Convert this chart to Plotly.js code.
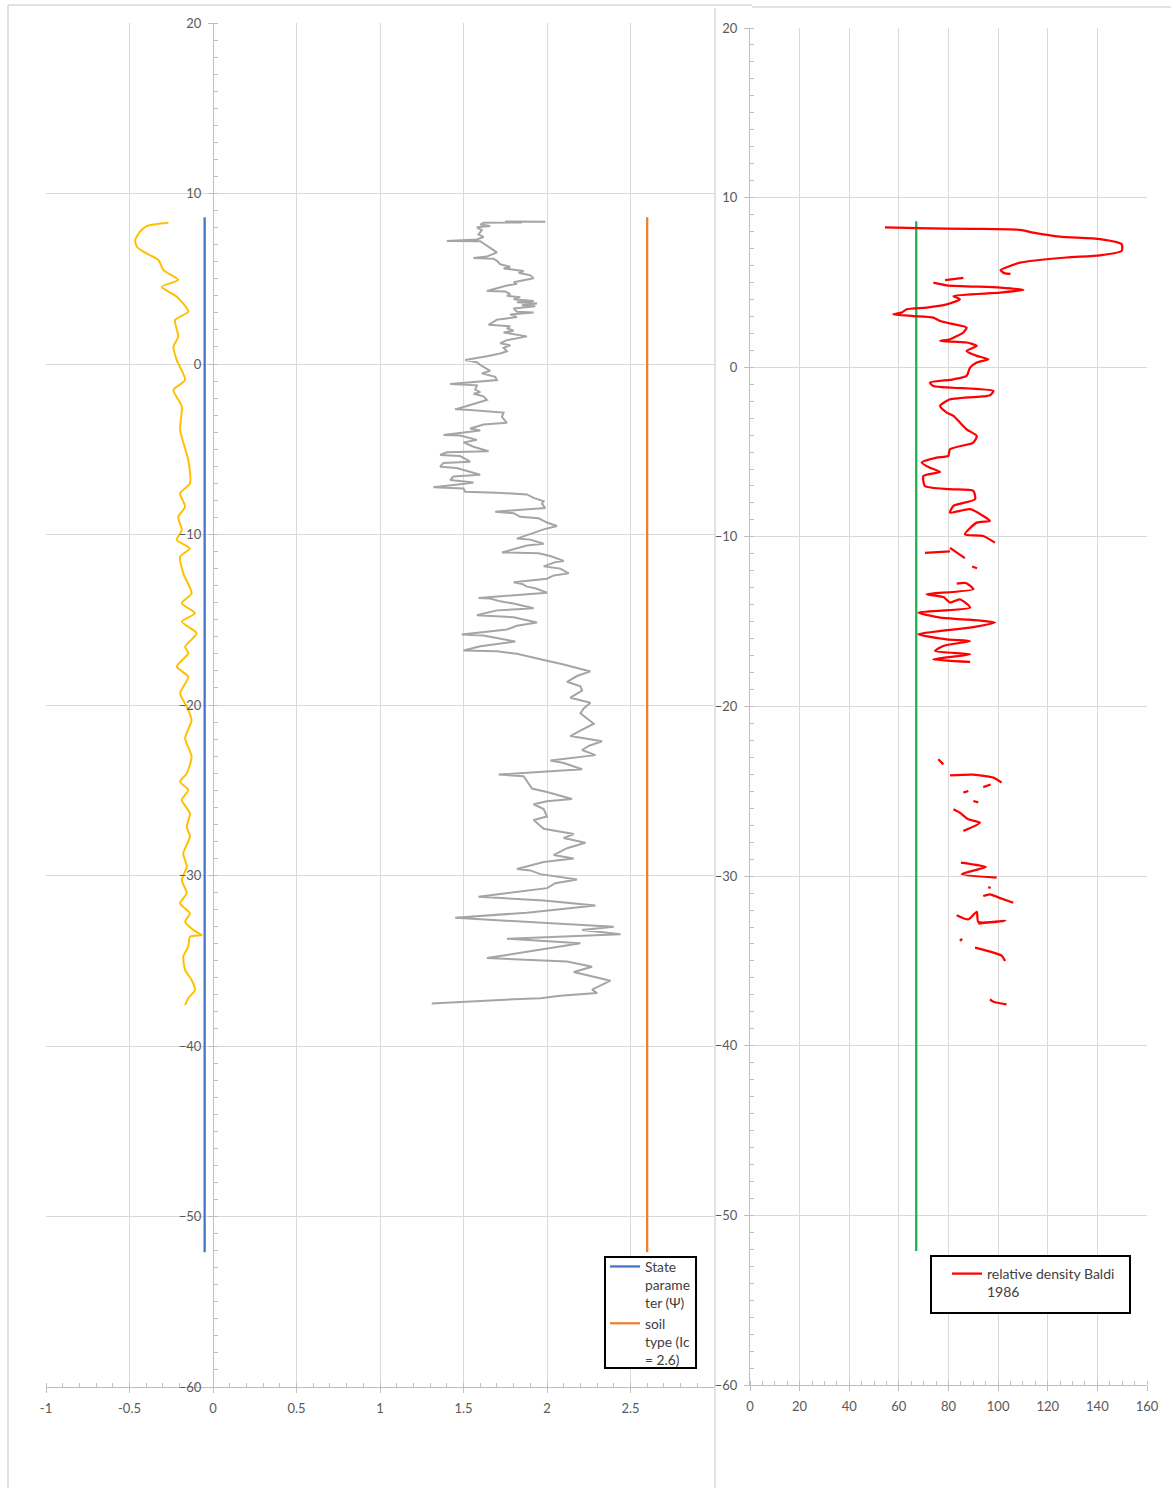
<!DOCTYPE html>
<html>
<head>
<meta charset="utf-8">
<script src="https://cdn.plot.ly/plotly-3.0.1.min.js"></script>
<style>html,body{margin:0;padding:0;background:#fff;}#chart{width:1171px;height:1488px;}</style>
</head>
<body>
<div id="chart"></div>
<script>
// ---- Data ----
// Yellow curve: state parameter profile (x value, elevation)
var psiX = [-0.267,-0.307,-0.397,-0.437,-0.466,-0.456,-0.417,-0.327,-0.297,-0.208,-0.307,-0.217,-0.148,-0.227,-0.208,-0.237,-0.217,-0.167,-0.237,-0.187,-0.197,-0.148,-0.138,-0.197,-0.167,-0.208,-0.187,-0.217,-0.138,-0.197,-0.178,-0.128,-0.187,-0.108,-0.187,-0.098,-0.167,-0.148,-0.217,-0.148,-0.197,-0.157,-0.128,-0.167,-0.128,-0.157,-0.197,-0.148,-0.187,-0.138,-0.157,-0.138,-0.178,-0.157,-0.187,-0.157,-0.197,-0.138,-0.167,-0.118,-0.068,-0.138,-0.148,-0.178,-0.167,-0.128,-0.108,-0.148,-0.167];
var psiY = [8.29,8.25,8.09,7.76,7.27,6.88,6.59,6.10,5.51,4.93,4.53,3.95,3.07,2.58,1.60,1.01,0.23,-0.94,-1.52,-2.50,-3.87,-5.63,-7.00,-7.58,-8.37,-8.96,-9.74,-10.32,-10.81,-11.30,-12.28,-13.45,-14.03,-14.62,-15.11,-15.79,-16.58,-16.97,-17.75,-18.34,-19.31,-20.10,-20.88,-21.95,-23.03,-24.01,-24.50,-24.99,-25.57,-26.35,-27.14,-27.72,-28.70,-29.48,-30.26,-31.04,-31.63,-32.22,-32.71,-33.20,-33.49,-33.59,-34.17,-34.76,-35.54,-36.13,-36.72,-37.20,-37.60];

// Grey curve: soil behaviour index profile
var icX = [1.99,1.75,1.85,1.62,1.60,1.66,1.58,1.61,1.59,1.62,1.58,1.40,1.60,1.63,1.66,1.70,1.64,1.56,1.68,1.70,1.72,1.78,1.74,1.86,1.83,1.90,1.92,1.85,1.80,1.82,1.76,1.64,1.75,1.78,1.76,1.84,1.80,1.92,1.82,1.94,1.85,1.93,1.80,1.82,1.92,1.78,1.82,1.70,1.65,1.78,1.76,1.80,1.74,1.88,1.82,1.76,1.72,1.78,1.74,1.76,1.72,1.64,1.51,1.58,1.60,1.63,1.66,1.61,1.69,1.70,1.42,1.58,1.57,1.60,1.56,1.62,1.64,1.49,1.45,1.52,1.74,1.73,1.76,1.62,1.54,1.60,1.38,1.48,1.58,1.50,1.56,1.65,1.40,1.36,1.48,1.54,1.38,1.36,1.46,1.60,1.44,1.42,1.56,1.48,1.32,1.50,1.51,1.70,1.88,1.92,1.98,1.97,1.99,1.69,1.80,1.84,1.95,2.00,2.06,1.98,1.82,1.90,1.98,1.88,1.73,1.95,2.02,2.10,2.05,1.98,2.08,2.13,2.04,2.00,1.80,1.85,1.88,1.93,2.00,1.59,1.66,1.72,1.80,1.92,1.70,1.58,1.80,1.94,1.82,1.76,1.49,1.62,1.81,1.60,1.50,1.70,1.82,2.00,2.10,2.26,2.18,2.12,2.20,2.21,2.14,2.26,2.22,2.20,2.24,2.28,2.20,2.14,2.33,2.25,2.21,2.29,2.02,2.10,2.21,1.71,1.86,1.88,1.91,2.00,2.15,2.00,1.92,1.98,2.00,1.92,1.98,2.16,2.10,2.23,2.12,2.04,2.16,1.98,1.82,1.90,1.96,2.18,2.05,2.00,1.59,1.98,2.29,1.88,1.45,2.00,2.40,2.21,2.44,1.76,2.20,1.64,2.12,2.27,2.16,2.38,2.27,2.30,2.08,1.96,1.80,1.31];
var icY = [8.35,8.36,8.30,8.28,8.18,8.10,8.02,7.85,7.60,7.45,7.30,7.22,7.20,7.00,6.80,6.55,6.30,6.22,6.18,6.05,5.85,5.70,5.60,5.45,5.35,5.20,5.03,4.92,4.80,4.70,4.60,4.28,4.25,4.10,4.00,3.92,3.80,3.70,3.62,3.55,3.45,3.38,3.25,3.07,3.02,2.90,2.75,2.60,2.30,2.22,2.10,1.95,1.85,1.62,1.50,1.40,1.22,1.10,0.95,0.75,0.62,0.45,0.24,0.10,-0.05,-0.25,-0.40,-0.55,-0.75,-0.94,-1.17,-1.25,-1.50,-1.65,-1.75,-1.90,-2.11,-2.55,-2.66,-2.68,-2.85,-3.10,-3.45,-3.55,-3.78,-3.90,-4.16,-4.20,-4.45,-4.60,-4.85,-5.12,-5.18,-5.34,-5.40,-5.73,-5.80,-6.02,-6.10,-6.50,-6.60,-6.80,-6.95,-7.05,-7.23,-7.30,-7.49,-7.55,-7.65,-7.85,-8.05,-8.20,-8.45,-8.66,-8.75,-8.96,-9.05,-9.30,-9.50,-9.70,-10.24,-10.30,-10.54,-10.65,-11.05,-11.10,-11.26,-11.55,-11.62,-11.87,-12.00,-12.28,-12.40,-12.59,-12.80,-12.90,-13.06,-13.15,-13.41,-13.72,-13.75,-13.92,-14.05,-14.33,-14.45,-14.74,-14.85,-15.16,-15.35,-15.57,-15.87,-15.92,-16.28,-16.55,-16.80,-16.85,-17.00,-17.41,-17.62,-18.03,-18.30,-18.64,-18.90,-19.16,-19.57,-19.87,-20.20,-20.49,-20.80,-21.10,-21.50,-21.82,-22.13,-22.40,-22.64,-22.94,-23.25,-23.40,-23.77,-24.08,-24.18,-24.50,-24.90,-25.10,-25.51,-25.65,-25.82,-26.10,-26.54,-26.75,-27.26,-27.57,-27.80,-28.08,-28.40,-28.80,-29.00,-29.21,-29.62,-29.70,-29.92,-30.23,-30.45,-30.74,-31.25,-31.46,-31.76,-32.18,-32.48,-32.79,-33.00,-33.20,-33.45,-33.71,-33.98,-34.84,-35.04,-35.35,-35.66,-36.17,-36.69,-36.89,-37.05,-37.20,-37.26,-37.51];

// Vertical reference lines
var refDepth = [8.6, -52.1];
var stateLimitX = [-0.05, -0.05];
var icLimitX = [2.6, 2.6];
var drLimitX = [67, 67];

// Red curve: relative density Baldi 1986 (null = gap)
var drX = [54.4,67.2,90,108.8,114.2,124.9,141.1,149.8,149.8,141.1,127.6,108.8,104.8,101.0,102.5,105.0,null,
  78.6,86.0,null,
  73.9,79.3,100.8,110.2,100.8,82.0,84.6,79.3,71.2,63.2,61.1,57.8,65.8,73.9,76.6,82.0,87.3,86.0,80.6,76.6,87.3,91.4,87.3,91.4,96.1,91.4,88.7,87.3,82.0,72.5,73.9,98.1,96.7,94.0,80.6,76.6,79.3,82.0,84.6,87.3,91.4,90.0,80.6,79.9,75.2,69.2,72.5,76.6,69.9,70.5,80.6,90.0,90.7,82.0,80.6,88.7,94.0,96.7,91.4,86.6,94.0,98.7,null,
  70.5,80.6,null,
  80.6,86.6,null,
  89.5,91.5,null,
  83.3,87.0,90.0,71.2,78.0,80.6,84.6,88.7,67.9,76.6,86.0,98.7,88.7,67.9,79.3,88.7,77.9,74.6,88.7,73.9,88.7,null,
  75.9,77.9,null,
  80.6,90.0,98.1,101.4,null,
  94.0,97.0,null,
  86.0,88.0,null,
  90.0,92.0,null,
  82.0,84.6,88.0,92.7,86.0,null,
  85.0,95.0,92.0,85.3,99.4,null,
  96.0,97.0,null,
  94.0,96.7,100.0,106.1,null,
  83.3,88.0,91.4,92.0,102.8,92.0,null,
  84.6,85.5,null,
  90.7,98.1,101.5,102.8,null,
  96.7,98.1,103.4];
var drY = [8.24,8.20,8.16,8.10,7.94,7.70,7.55,7.25,6.86,6.60,6.47,6.17,5.97,5.72,5.55,5.50,null,
  5.13,5.27,null,
  4.99,4.83,4.70,4.56,4.40,4.20,4.01,3.71,3.52,3.42,3.22,3.12,3.02,2.93,2.73,2.54,2.34,2.05,1.65,1.55,1.46,1.26,0.96,0.67,0.47,0.28,-0.02,-0.51,-0.71,-0.90,-1.10,-1.40,-1.65,-1.72,-1.89,-2.28,-2.67,-2.87,-3.26,-3.66,-4.05,-4.44,-4.83,-5.23,-5.33,-5.62,-5.92,-6.17,-6.41,-7.00,-7.19,-7.29,-7.78,-8.17,-8.57,-8.37,-8.77,-9.06,-9.16,-9.85,-9.95,-10.34,null,
  -10.95,-10.85,null,
  -10.65,-11.25,null,
  -11.75,-11.85,null,
  -12.75,-12.72,-13.09,-13.38,-13.55,-13.87,-13.68,-14.17,-14.46,-14.76,-14.86,-15.05,-15.35,-15.74,-16.04,-16.14,-16.43,-16.73,-16.92,-17.22,-17.37,null,
  -23.11,-23.41,null,
  -24.06,-24.02,-24.19,-24.49,null,
  -24.75,-24.60,null,
  -25.08,-24.98,null,
  -25.57,-25.65,null,
  -26.06,-26.26,-26.65,-26.85,-27.34,null,
  -29.20,-29.45,-29.60,-29.89,-30.09,null,
  -30.65,-30.70,null,
  -31.17,-31.07,-31.25,-31.57,null,
  -32.30,-32.55,-32.10,-32.70,-32.64,-32.80,null,
  -33.82,-33.70,null,
  -34.22,-34.51,-34.70,-35.01,null,
  -37.26,-37.41,-37.56];

// Tick labels
var leftXTicks = [-1,-0.5,0,0.5,1,1.5,2,2.5];
var leftXLabels = ['-1','-0.5','0','0.5','1','1.5','2','2.5'];

// ---- Layout helpers ----
var W = 1171, H = 1488;
function px(x){return x/W;}
function py(y){return 1 - y/H;}

var fam = 'Lato, "Liberation Sans", sans-serif';
var tickFont = {family:fam, size:13, color:'#595959'};
var gridC = '#d9d9d9', axisC = '#bfbfbf';

var traces = [
  {x: psiX, y: psiY, xaxis:'x', yaxis:'y', mode:'lines', line:{color:'#FFC000', width:2, shape:'spline', smoothing:0.6}, showlegend:false, hoverinfo:'skip'},
  {x: icX, y: icY, xaxis:'x', yaxis:'y', mode:'lines', line:{color:'#A5A5A5', width:2}, showlegend:false, hoverinfo:'skip'},
  {x: stateLimitX, y: refDepth, xaxis:'x', yaxis:'y', mode:'lines', line:{color:'#4472C4', width:2.25}, name:'State<br>parame<br>ter (Ψ)', legend:'legend'},
  {x: icLimitX, y: refDepth, xaxis:'x', yaxis:'y', mode:'lines', line:{color:'#ED7D31', width:2.25}, name:'soil<br>type (Ic<br>= 2.6)', legend:'legend'},
  {x: drLimitX, y: refDepth, xaxis:'x2', yaxis:'y2', mode:'lines', line:{color:'#1DB04E', width:2.25}, showlegend:false, hoverinfo:'skip'},
  {x: drX, y: drY, xaxis:'x2', yaxis:'y2', mode:'lines', connectgaps:false, line:{color:'#FF0000', width:2.25, shape:'spline', smoothing:0.6}, name:'relative density Baldi<br>1986', legend:'legend2'}
];

var baseAxis = {showgrid:true, gridcolor:gridC, gridwidth:1, zeroline:false, showline:true, linecolor:axisC, linewidth:1,
  ticks:'outside', ticklen:5, tickcolor:axisC, tickfont:tickFont, fixedrange:true, ticklabelstandoff:4};

var layout = {
  width: W, height: H,
  margin:{l:0, r:0, t:0, b:0, pad:0},
  paper_bgcolor:'#ffffff', plot_bgcolor:'rgba(0,0,0,0)',
  font: tickFont,
  xaxis: Object.assign({}, baseAxis, {domain:[px(46), px(714)], range:[-1,3], anchor:'y',
    tickmode:'array', tickvals:leftXTicks, ticktext:leftXLabels,
    minor:{dtick:0.1, tick0:0, ticks:'inside', ticklen:4, tickcolor:axisC, showgrid:false}}),
  yaxis: Object.assign({}, baseAxis, {domain:[py(1387), py(23)], range:[-60,20], dtick:10, anchor:'free', position:px(213),
    minor:{dtick:1, tick0:0, ticks:'inside', ticklen:4, tickcolor:axisC, showgrid:false}}),
  xaxis2: Object.assign({}, baseAxis, {domain:[px(750), px(1147)], range:[0,160], dtick:20, anchor:'y2',
    minor:{dtick:5, tick0:0, ticks:'inside', ticklen:4, tickcolor:axisC, showgrid:false}}),
  yaxis2: Object.assign({}, baseAxis, {domain:[py(1385), py(28)], range:[-60,20], dtick:10, anchor:'x2',
    minor:{dtick:1, tick0:0, ticks:'inside', ticklen:4, tickcolor:axisC, showgrid:false}}),
  legend: {x:px(605), y:py(1251), xanchor:'left', yanchor:'top', bgcolor:'rgba(0,0,0,0)', borderwidth:0,
    valign:'top', tracegroupgap:0, itemwidth:30,
    font:{family:fam, size:13.8, color:'#404040'}},
  legend2: {x:px(947), y:py(1258), xanchor:'left', yanchor:'top', bgcolor:'rgba(0,0,0,0)', borderwidth:0,
    valign:'top', itemwidth:30,
    font:{family:fam, size:14, color:'#404040'}},
  shapes: [
    {type:'line', xref:'paper', yref:'paper', x0:px(8), x1:px(752), y0:py(5), y1:py(5), line:{color:'#d9d9d9', width:1.5}},
    {type:'line', xref:'paper', yref:'paper', x0:px(8), x1:px(8), y0:py(5), y1:0, line:{color:'#d9d9d9', width:1.5}},
    {type:'line', xref:'paper', yref:'paper', x0:px(752), x1:1, y0:py(7), y1:py(7), line:{color:'#d9d9d9', width:1.5}},
    {type:'line', xref:'paper', yref:'paper', x0:px(715), x1:px(715), y0:py(8), y1:0, line:{color:'#d9d9d9', width:1.5}},
    {type:'rect', xref:'paper', yref:'paper', layer:'above', x0:px(605), x1:px(696), y0:py(1257), y1:py(1368), fillcolor:'#ffffff', line:{color:'#000000', width:2}},
    {type:'rect', xref:'paper', yref:'paper', layer:'above', x0:px(931), x1:px(1130), y0:py(1256), y1:py(1313), fillcolor:'#ffffff', line:{color:'#000000', width:2}}
  ],
  showlegend:true
};

Plotly.newPlot('chart', traces, layout, {staticPlot:true, displayModeBar:false});
</script>
</body>
</html>
